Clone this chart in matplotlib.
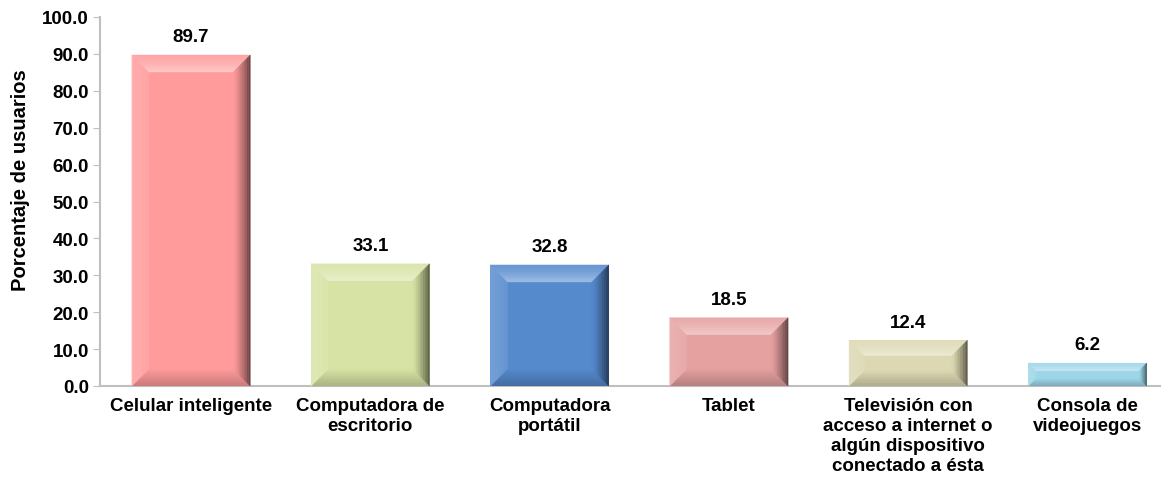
import matplotlib
matplotlib.use("Agg")
import matplotlib.pyplot as plt
import numpy as np
from matplotlib.patches import Polygon
from matplotlib.colors import to_rgb

categories = ["Celular inteligente", "Computadora de\nescritorio", "Computadora\nportátil",
              "Tablet", "Televisión con\nacceso a internet o\nalgún dispositivo\nconectado a ésta",
              "Consola de\nvideojuegos"]
values = [89.7, 33.1, 32.8, 18.5, 12.4, 6.2]
colors = ["#FF9B9B", "#D6E3A4", "#558ACD", "#E5A0A0", "#DCD8B2", "#9CD6E8"]
yticks = [0, 10, 20, 30, 40, 50, 60, 70, 80, 90, 100]

plt.rcParams['font.family'] = ['Liberation Sans', 'DejaVu Sans']
W, H = 1161, 481
fig = plt.figure(figsize=(W / 100, H / 100), dpi=100)
ax = fig.add_axes([100 / W, 1 - 387 / H, 1 - 100 / W, (387 - 18) / H])

x = np.arange(len(values))
bw = 0.66
bars = ax.bar(x, values, width=bw, color=colors, edgecolor='none', zorder=2)
ax.set_xlim(-0.508, 5.41)
ax.set_ylim(0, 100)
ax.set_yticks(yticks)
ax.set_yticklabels([f"{t:.1f}" for t in yticks], fontsize=13.5, fontweight='bold')
ax.set_xticks(x)
ax.set_xticklabels(categories, fontsize=13.5, fontweight='bold', linespacing=1.22, va='top')
ax.tick_params(axis='x', length=0, pad=8)
ax.tick_params(axis='y', length=5, color='#BFBFBF', pad=3)
for s in ['top', 'right']:
    ax.spines[s].set_visible(False)
for s in ['left', 'bottom']:
    ax.spines[s].set_color('#BFBFBF')
    ax.spines[s].set_linewidth(1.5)
ax.set_ylabel("Porcentaje de usuarios", fontsize=14.5, fontweight='bold')
ax.yaxis.set_label_coords(-0.066, 0.56)

fig.canvas.draw()
inv = ax.transData.inverted()


def blend(c, target, a):
    c = np.array(to_rgb(c)); t = np.array(to_rgb(target))
    return tuple(np.clip(c * (1 - a) + t * a, 0, 1))


def band(outer_a, outer_b, inner_a, inner_b, t0, t1, fc):
    # trapezoid strip between depths t0 and t1 (0 = outer edge, 1 = inner edge)
    pa0 = outer_a + (inner_a - outer_a) * t0
    pb0 = outer_b + (inner_b - outer_b) * t0
    pa1 = outer_a + (inner_a - outer_a) * t1
    pb1 = outer_b + (inner_b - outer_b) * t1
    ax.add_patch(Polygon(inv.transform([pa0, pb0, pb1, pa1]), closed=True,
                         fc=fc, ec=fc, lw=0.3, zorder=3))


N = 10
for b, c, v in zip(bars, colors, values):
    x0, x1 = b.get_x(), b.get_x() + b.get_width()
    (px0, py0), (px1, py1) = ax.transData.transform([(x0, 0), (x1, v)])
    h = py1 - py0
    d = min(17, h * 0.34)
    o = [np.array(p) for p in [(px0, py0), (px1, py0), (px1, py1), (px0, py1)]]
    i_ = [np.array(p) for p in [(px0 + d, py0 + d), (px1 - d, py0 + d), (px1 - d, py1 - d), (px0 + d, py1 - d)]]
    for k in range(N):
        t0, t1 = k / N, (k + 1) / N
        tm = (t0 + t1) / 2
        band(o[0], o[1], i_[0], i_[1], t0, t1, blend(c, 'black', 0.22 * (1 - tm)))
        band(o[0], o[3], i_[0], i_[3], t0, t1, blend(c, 'white', 0.10 + 0.1 * (1 - tm)))
        band(o[3], o[2], i_[3], i_[2], t0, t1, blend(c, 'white', 0.12 + 0.33 * tm ** 1.5))
        band(o[1], o[2], i_[1], i_[2], t0, t1, blend(c, 'black', 0.6 * (1 - tm) ** 1.3))
    ax.annotate(f"{v:.1f}", xy=((x0 + x1) / 2, v), xytext=(0, 7),
                textcoords='offset points', ha='center', va='bottom',
                fontsize=13.5, fontweight='bold', zorder=4)

fig.savefig("out.png", dpi=100)
